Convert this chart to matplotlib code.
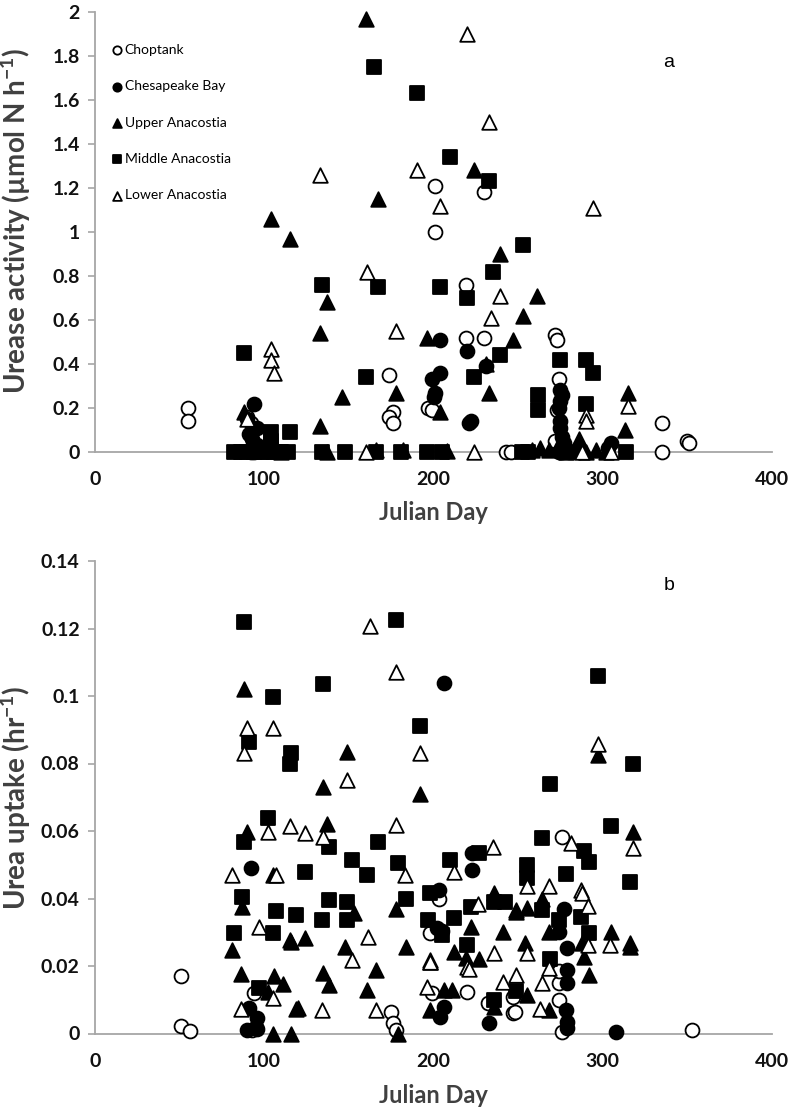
import matplotlib
matplotlib.use("Agg")
import matplotlib.pyplot as plt

plt.rcParams['font.family'] = ['Lato', 'DejaVu Sans']
plt.rcParams['mathtext.fontset'] = 'custom'
plt.rcParams['mathtext.rm'] = 'Lato'
plt.rcParams['mathtext.bf'] = 'Lato:bold'
plt.rcParams['mathtext.default'] = 'bf'

series = ["Choptank", "Chesapeake Bay", "Upper Anacostia", "Middle Anacostia", "Lower Anacostia"]

# ---- panel a: urease activity ----
a_chop_day = [55, 55, 90, 92, 174, 176, 174, 176, 197, 199, 201, 230, 201, 219, 219, 230,
              272, 273, 274, 273, 272, 274, 243, 246, 276, 335, 335, 350, 351]
a_chop_val = [0.20, 0.14, 0.16, 0.13, 0.35, 0.18, 0.16, 0.13, 0.20, 0.19, 1.21, 1.18, 1.00, 0.76, 0.52, 0.52,
              0.53, 0.51, 0.33, 0.19, 0.05, 0.0, 0.0, 0.0, 0.0, 0.13, 0.0, 0.05, 0.04]

a_ches_day = [94, 90, 96, 91, 93, 96, 94, 92, 204, 220, 204, 199, 201, 200, 222, 221, 231,
              275, 276, 275, 274, 275, 275, 276, 277, 278, 280, 305, 303, 275, 282, 286]
a_ches_val = [0.22, 0.15, 0.11, 0.08, 0.06, 0.03, 0.0, 0.0, 0.51, 0.46, 0.36, 0.33, 0.27, 0.25, 0.14, 0.13, 0.39,
              0.28, 0.26, 0.23, 0.20, 0.14, 0.11, 0.07, 0.04, 0.015, 0.0, 0.04, 0.02, 0.0, 0.0, 0.0]

a_up_day = [88, 104, 115, 133, 133, 137, 146, 160, 167, 178, 196, 204, 224, 231, 233, 239, 247, 253, 261,
            286, 313, 315, 110, 137, 166, 182, 208, 258, 263, 268, 273, 278, 283, 290, 296, 302]
a_up_val = [0.18, 1.06, 0.97, 0.54, 0.12, 0.68, 0.25, 1.97, 1.15, 0.27, 0.52, 0.18, 1.28, 0.40, 0.27, 0.90, 0.51, 0.62, 0.71,
            0.06, 0.10, 0.27, 0, 0, 0.01, 0.01, 0.005, 0.01, 0.02, 0.01, 0.02, 0.0, 0.01, 0.0, 0.01, 0.0]

a_mid_day = [165, 190, 210, 233, 253, 88, 134, 160, 104, 115, 235, 167, 204, 220, 239, 224,
             275, 290, 294, 262, 262, 290, 104, 104,
             82, 86, 90, 94, 98, 102, 106, 110, 114, 134, 148, 166, 181, 196, 205, 252, 256, 314]
a_mid_val = [1.75, 1.63, 1.34, 1.23, 0.94, 0.45, 0.76, 0.34, 0.09, 0.09, 0.82, 0.75, 0.75, 0.70, 0.44, 0.34,
             0.42, 0.42, 0.36, 0.26, 0.19, 0.22, 0.05, 0.03,
             0, 0, 0, 0, 0, 0, 0, 0, 0, 0, 0, 0, 0, 0, 0, 0, 0, 0]

a_low_day = [133, 220, 233, 190, 204, 294, 161, 104, 104, 106, 239, 234, 178, 315, 290, 290,
             160, 224, 305, 90, 288]
a_low_val = [1.26, 1.90, 1.50, 1.28, 1.12, 1.11, 0.82, 0.47, 0.42, 0.36, 0.71, 0.61, 0.55, 0.21, 0.17, 0.14,
             0, 0, 0, 0.15, 0]

# ---- panel b: urea uptake ----
b_chop_day = [51, 51, 56, 94, 93, 203, 198, 199, 220, 232, 175, 176, 178, 247, 247, 276, 353, 248, 274, 276, 274, 274]
b_chop_val = [0.0171, 0.0022, 0.0008, 0.012, 0.001, 0.040, 0.0297, 0.0119, 0.0124, 0.0089, 0.0065, 0.003, 0.001,
              0.0109, 0.006, 0.0583, 0.001, 0.0065, 0.0099, 0.0005, 0.015, 0.0185]

b_ches_day = [92, 91, 96, 96, 90, 95, 206, 223, 223, 203, 202, 205, 204, 206, 233,
              277, 279, 279, 279, 278, 279, 279, 274, 308]
b_ches_val = [0.049, 0.0075, 0.0045, 0.0013, 0.001, 0.002, 0.1038, 0.0534, 0.0484, 0.0425, 0.0312, 0.0305, 0.005,
              0.008, 0.003, 0.037, 0.0252, 0.0188, 0.0149, 0.007, 0.0035, 0.0015, 0.030, 0.0005]

b_up_day = [88, 149, 135, 192, 297, 90, 87, 81, 86, 106, 111, 102, 105, 115, 105, 116, 119,
            137, 116, 124, 153, 178, 148, 184, 135, 138, 166, 161, 120, 179,
            198, 206, 211, 222, 212, 219, 227, 236, 241, 249, 198, 236,
            318, 249, 255, 264, 305, 316, 316, 254, 289, 292, 255, 268, 268, 288]
b_up_val = [0.102, 0.0834, 0.073, 0.071, 0.0825, 0.0598, 0.0376, 0.0247, 0.0176, 0.0171, 0.0147, 0.0122, 0.047,
            0.0277, 0.0, 0.0, 0.0072,
            0.062, 0.0272, 0.0282, 0.0356, 0.037, 0.0257, 0.0257, 0.0178, 0.0144, 0.0188, 0.0129, 0.0075, 0.0,
            0.007, 0.0129, 0.0129, 0.0316, 0.0242, 0.0223, 0.0221, 0.0415, 0.0302, 0.0361, 0.0211, 0.008,
            0.0598, 0.0366, 0.0371, 0.040, 0.0302, 0.0267, 0.0257, 0.0267, 0.0228, 0.0173, 0.0114, 0.007, 0.0302, 0.0267]

b_mid_day = [88, 105, 134.5, 91, 116, 115, 178, 297, 192, 318, 269, 102, 88, 87, 107, 105, 82, 97, 119,
             167, 138, 152, 161, 179, 124, 138, 149, 149, 134, 184, 198, 197, 205, 212, 210, 222, 220, 227,
             236, 242, 236, 249, 305, 264, 289, 292, 255, 255, 278, 316, 264, 274, 287, 292, 269]
b_mid_val = [0.122, 0.0997, 0.1035, 0.0864, 0.083, 0.080, 0.1225, 0.106, 0.091, 0.080, 0.074, 0.064, 0.0568,
             0.0405, 0.0363, 0.0299, 0.0297, 0.0136, 0.0351,
             0.0568, 0.0553, 0.0514, 0.047, 0.0504, 0.048, 0.0396, 0.039, 0.0336, 0.0336, 0.0398, 0.0415, 0.0336,
             0.0292, 0.0341, 0.0514, 0.0376, 0.0262, 0.0536,
             0.039, 0.039, 0.0099, 0.0125, 0.0615, 0.0578, 0.0542, 0.0509, 0.050, 0.046, 0.0473, 0.045, 0.0366,
             0.0336, 0.0346, 0.0297, 0.022]

b_low_day = [90, 105, 88, 149, 162.5, 178, 192, 297, 81, 102, 115, 97, 107, 105, 86,
             124, 135, 178, 183, 212, 235, 226.5, 161.5, 152, 198, 198, 236, 220, 221, 196, 241, 249, 134, 166,
             281, 318, 268, 287, 288, 291.5, 255, 255, 304, 291.5, 264, 263, 268]
b_low_val = [0.0905, 0.0905, 0.083, 0.075, 0.1207, 0.107, 0.083, 0.0858, 0.047, 0.0598, 0.0615, 0.0317, 0.047,
             0.0106, 0.0072,
             0.0593, 0.0583, 0.0618, 0.047, 0.048, 0.0553, 0.0384, 0.0287, 0.0218, 0.0218, 0.0211, 0.0238, 0.0198,
             0.019, 0.0139, 0.0154, 0.0173, 0.007, 0.007,
             0.0563, 0.0549, 0.0437, 0.0425, 0.0415, 0.0378, 0.0437, 0.0238, 0.0262, 0.0262, 0.015, 0.0072, 0.0193]

styles = [("o", "white"), ("o", "black"), ("^", "black"), ("s", "black"), ("^", "white")]
GRAY = "#a6a6a6"

fig = plt.figure(figsize=(7.88, 11.11), dpi=100)
ax_a = fig.add_axes([95 / 788, 1 - 452 / 1111, 677 / 788, 440 / 1111])
ax_b = fig.add_axes([95 / 788, 1 - 1033.5 / 1111, 677 / 788, 472.5 / 1111])

panel_a = [(a_chop_day, a_chop_val), (a_ches_day, a_ches_val), (a_up_day, a_up_val),
           (a_mid_day, a_mid_val), (a_low_day, a_low_val)]
panel_b = [(b_chop_day, b_chop_val), (b_ches_day, b_ches_val), (b_up_day, b_up_val),
           (b_mid_day, b_mid_val), (b_low_day, b_low_val)]

for ax, data in [(ax_a, panel_a), (ax_b, panel_b)]:
    for name, (d, v), (m, fc) in zip(series, data, styles):
        ms = 100 if m != "^" else 110
        ax.scatter(d, v, marker=m, s=ms, facecolor=fc, edgecolor="black",
                   linewidth=1.3, label=name, clip_on=False, zorder=3)
    ax.set_xlim(0, 400)
    ax.set_xticks([0, 100, 200, 300, 400])
    for s in ["top", "right"]:
        ax.spines[s].set_visible(False)
    for s in ["left", "bottom"]:
        ax.spines[s].set_color(GRAY)
        ax.spines[s].set_linewidth(1.3)
    ax.tick_params(axis="y", length=5, width=1.2, color=GRAY, pad=6,
                   labelsize=14, labelcolor="#111111")
    ax.tick_params(axis="x", length=0, pad=14, labelsize=14, labelcolor="#111111")

ax_a.set_ylim(0, 2)
ax_a.set_yticks([0, 0.2, 0.4, 0.6, 0.8, 1, 1.2, 1.4, 1.6, 1.8, 2])
ax_a.set_yticklabels(["0", "0.2", "0.4", "0.6", "0.8", "1", "1.2", "1.4", "1.6", "1.8", "2"])
ax_b.set_ylim(0, 0.14)
ax_b.set_yticks([0, 0.02, 0.04, 0.06, 0.08, 0.1, 0.12, 0.14])
ax_b.set_yticklabels(["0", "0.02", "0.04", "0.06", "0.08", "0.1", "0.12", "0.14"])
for ax in (ax_a, ax_b):
    for lab in ax.get_xticklabels() + ax.get_yticklabels():
        lab.set_fontweight("bold")

for ax, ypos in [(ax_a, -0.112), (ax_b, -0.107)]:
    ax.set_xlabel("Julian Day", fontsize=17, fontweight="bold", color="#404040")
    ax.xaxis.set_label_coords(0.5, ypos)

ax_a.set_ylabel(r"Urease activity (µmol N h$^{-1}$)", fontsize=20, fontweight="bold",
                color="#404040")
ax_a.yaxis.set_label_coords(-0.092, 0.525)
ax_b.set_ylabel(r"Urea uptake (hr$^{-1}$)", fontsize=20, fontweight="bold",
                color="#404040")
ax_b.yaxis.set_label_coords(-0.092, 0.5)

ax_a.text(339, 1.77, "a", fontsize=14, family="Liberation Sans", ha="center", va="center")
ax_b.text(339, 0.1326, "b", fontsize=14, family="Liberation Sans", ha="center", va="center")

leg = ax_a.legend(loc="upper left", bbox_to_anchor=(0.018, 0.94), frameon=False,
                  fontsize=10, markerscale=0.6, handlelength=0.6, handletextpad=0.25,
                  labelspacing=1.75, borderaxespad=0)

fig.savefig("out.png", dpi=100)
